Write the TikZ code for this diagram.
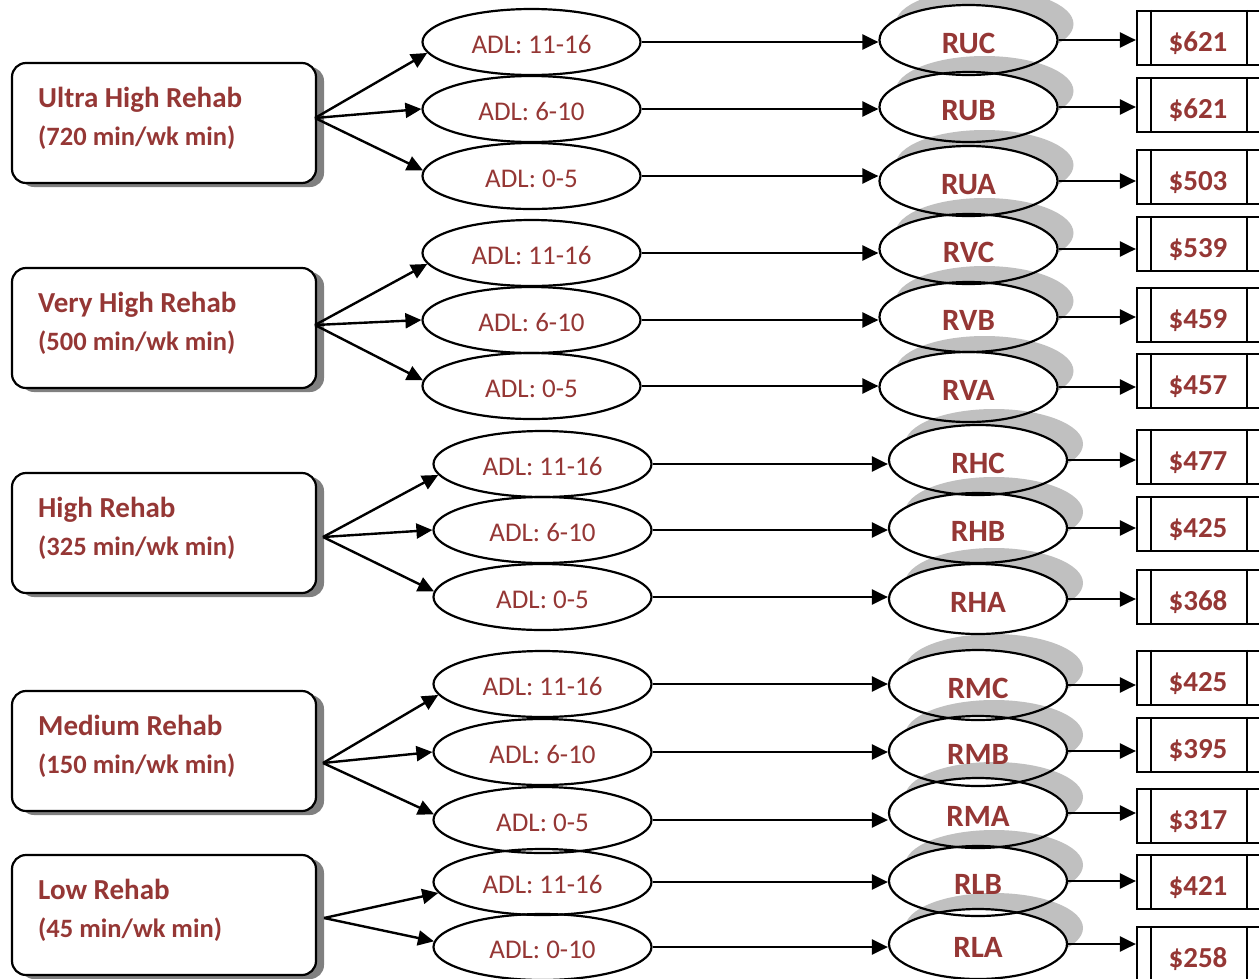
\documentclass[tikz,border=0pt]{standalone}
\usepackage{fontspec}
\setmainfont{Carlito}
\usetikzlibrary{shapes.geometric,arrows.meta,shadows}
\definecolor{dred}{RGB}{149,55,53}
\definecolor{lshadow}{RGB}{128,128,128}
\definecolor{rshadow}{RGB}{192,192,192}
\begin{document}
\begin{tikzpicture}[x=1pt,y=-1pt,
  lbox/.style={draw, line width=2.2pt, rounded corners=14pt, fill=white,
    minimum width=304pt, minimum height=120pt, inner sep=0pt,
    drop shadow={shadow xshift=8pt, shadow yshift=-4pt, fill=lshadow, opacity=1}},
  ltext/.style={font=\fontsize{29}{35}\selectfont\bfseries, text=dred, anchor=base west, inner sep=0pt},
  lsub/.style={font=\fontsize{26.5}{32}\selectfont\bfseries, text=dred, anchor=base west, inner sep=0pt},
  adl/.style={ellipse, draw, line width=2.2pt, minimum width=218pt, minimum height=66pt,
    inner sep=0pt, font=\fontsize{27}{30}\selectfont, text=dred, text height=22pt, text depth=0pt},
  rnode/.style={ellipse, draw, line width=2.2pt, minimum width=178pt, minimum height=70pt,
    inner sep=0pt, font=\fontsize{31}{36}\selectfont\bfseries, text=dred, text height=26pt, text depth=0pt},
  pbox/.style={draw, line width=2.2pt, minimum width=134pt, minimum height=54pt, inner sep=0pt},
  ptext/.style={font=\fontsize{29}{32}\selectfont\bfseries, text=dred, anchor=base, inner sep=0pt},
  conn/.style={line width=2.4pt, -{Triangle[length=16pt,width=15pt]}}
]
\useasboundingbox (0,0) rectangle (1259,978);

% left boxes
\node[lbox] (b1) at (164,123) {};
\node[lbox] (b2) at (164,328) {};
\node[lbox] (b3) at (164,533) {};
\node[lbox] (b4) at (164,751) {};
\node[lbox] (b5) at (164,915) {};
\node[ltext] (t1a) at (38,107) {Ultra High Rehab};
\node[lsub] (t1b) at (38,145) {(720 min/wk min)};
\node[ltext] (t2a) at (38,312) {Very High Rehab};
\node[lsub] (t2b) at (38,350) {(500 min/wk min)};
\node[ltext] (t3a) at (38,517) {High Rehab};
\node[lsub] (t3b) at (38,555) {(325 min/wk min)};
\node[ltext] (t4a) at (38,735) {Medium Rehab};
\node[lsub] (t4b) at (38,773) {(150 min/wk min)};
\node[ltext] (t5a) at (38,899) {Low Rehab};
\node[lsub] (t5b) at (38,937) {(45 min/wk min)};

\coordinate (o1) at (315,118);
\coordinate (o2) at (315,325);
\coordinate (o3) at (323,537);
\coordinate (o4) at (323,763);
\coordinate (o5) at (324,918);

% shadows and white fills of R ellipses
\foreach \rx/\ry in {968.5/40,968.5/107,968.5/181,968.5/249,968.5/317,968.5/387,
  978/460,978/528,978/599,978/685,978/751,978/813,978/881,978/944}{
  \fill[rshadow] (\rx+16,\ry-16) ellipse [x radius=89, y radius=35];
  \fill[white] (\rx,\ry) ellipse [x radius=89, y radius=35];
}

% rows
\foreach \i/\ax/\ay/\at/\rx/\ry/\rt/\py/\pv in {
  1/531.5/42/ADL: 11-16/968.5/40/RUC/38/621,
  2/531.5/109/ADL: 6-10/968.5/107/RUB/105/621,
  3/531.5/176/ADL: 0-5/968.5/181/RUA/177/503,
  4/531.5/253/ADL: 11-16/968.5/249/RVC/244/539,
  5/531.5/320/ADL: 6-10/968.5/317/RVB/315/459,
  6/531.5/386/ADL: 0-5/968.5/387/RVA/381/457,
  7/542.5/464/ADL: 11-16/978/460/RHC/457/477,
  8/542.5/530/ADL: 6-10/978/528/RHB/524/425,
  9/542.5/597/ADL: 0-5/978/599/RHA/597/368,
  10/542.5/684/ADL: 11-16/978/685/RMC/678/425,
  11/542.5/752/ADL: 6-10/978/751/RMB/745/395,
  12/542.5/820/ADL: 0-5/978/813/RMA/816/317,
  13/542.5/882/ADL: 11-16/978/881/RLB/882/421,
  14/542.5/947/ADL: 0-10/978/944/RLA/954/258}{
  \node[adl] (a\i) at (\ax,\ay) {\at};
  \node[rnode] (r\i) at (\rx,\ry) {\rt};
  \node[pbox] (p\i) at (1204,\py) {};
  \draw[line width=2.2pt] ([xshift=15pt]p\i.north west) -- ([xshift=15pt]p\i.south west);
  \draw[line width=2.2pt] ([xshift=111pt]p\i.north west) -- ([xshift=111pt]p\i.south west);
  \node[ptext] (q\i) at (1198,\py+13) {\$\pv};
  \draw[conn] (a\i.east) -- (a\i.east -| r\i.west);
  \draw[conn] (r\i.east) -- (r\i.east -| p\i.west);
}

% fan-out arrows
\draw[conn] (o1) -- (a1.186);
\draw[conn] (o1) -- (a2.west);
\draw[conn] (o1) -- (a3.177);
\draw[conn] (o2) -- (a4.186);
\draw[conn] (o2) -- (a5.west);
\draw[conn] (o2) -- (a6.177);
\draw[conn] (o3) -- (a7.186);
\draw[conn] (o3) -- (a8.west);
\draw[conn] (o3) -- (a9.177);
\draw[conn] (o4) -- (a10.186);
\draw[conn] (o4) -- (a11.west);
\draw[conn] (o4) -- (a12.177);
\draw[conn] (o5) -- (a13.186);
\draw[conn] (o5) -- (a14.177);
\end{tikzpicture}
\end{document}
